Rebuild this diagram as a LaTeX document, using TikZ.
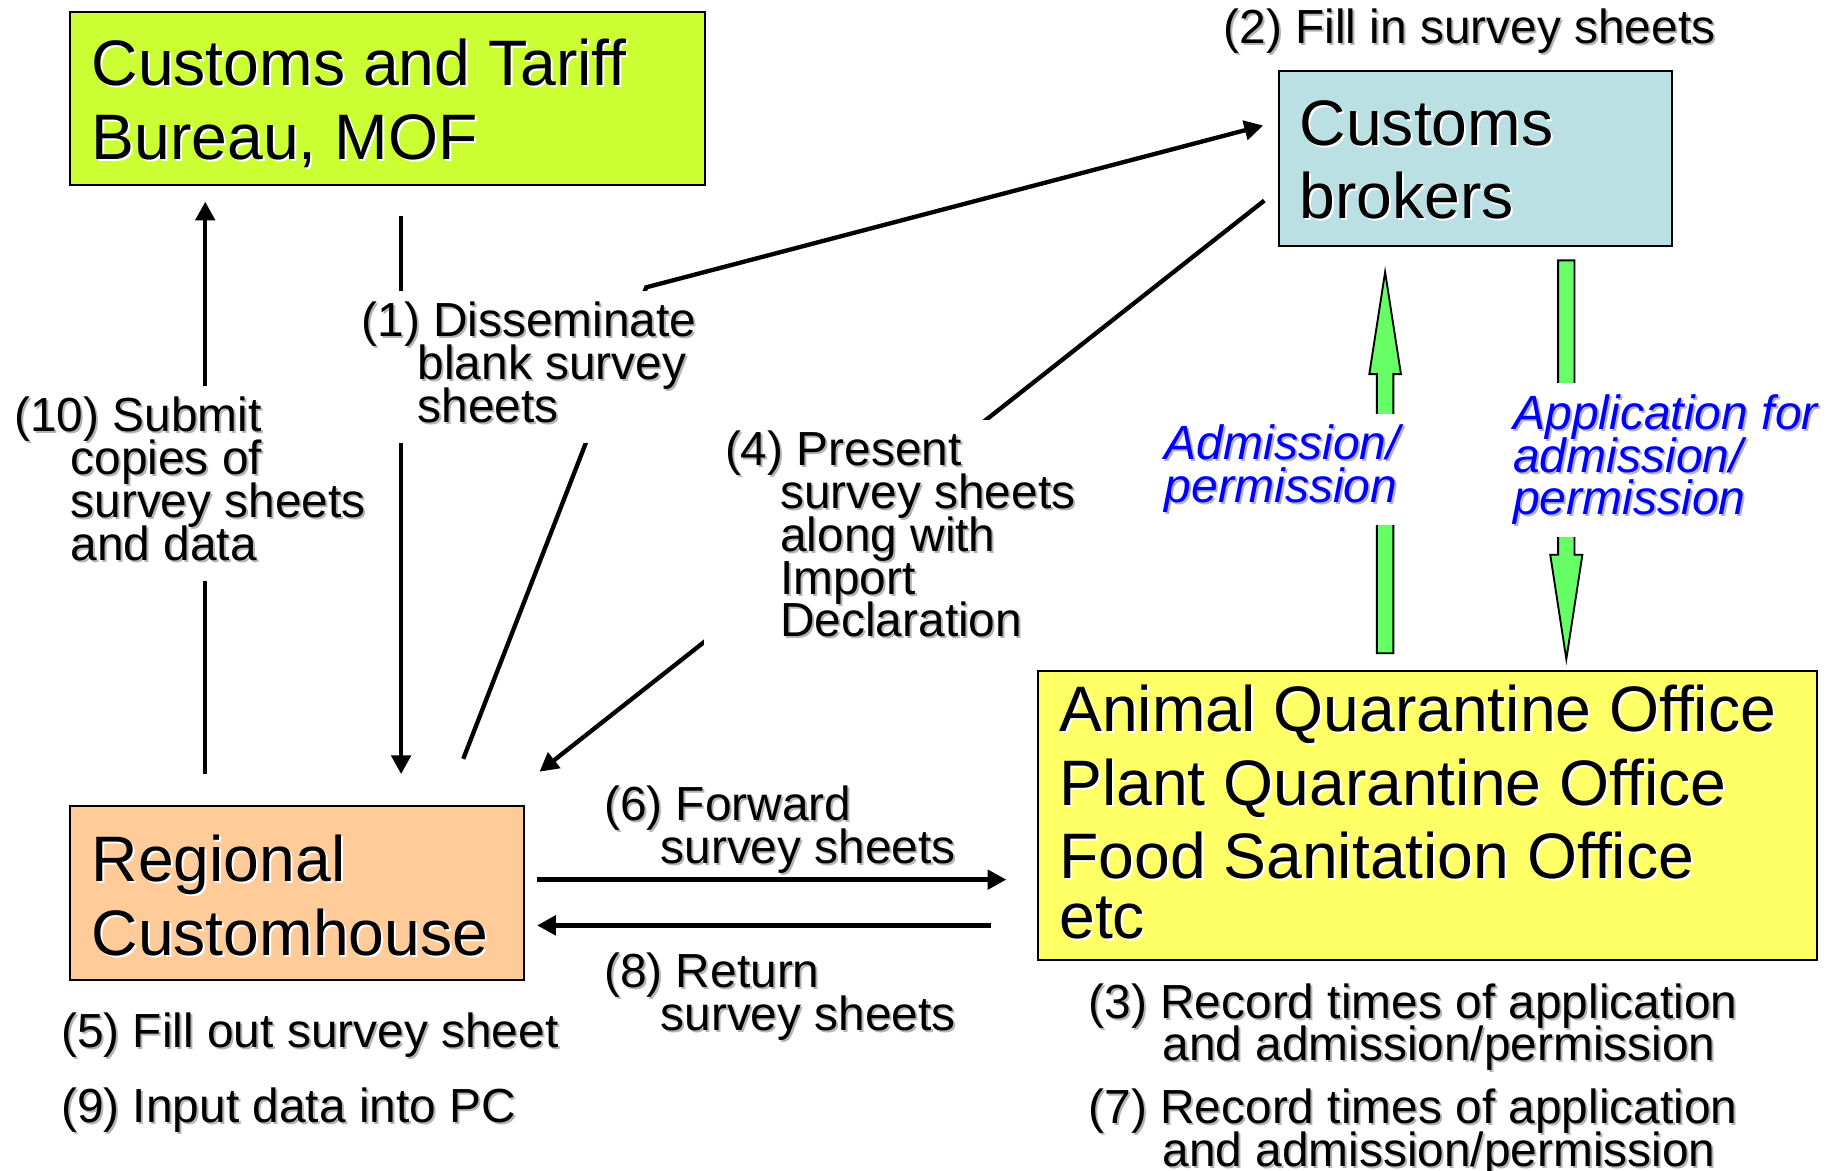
\documentclass[tikz,border=0pt]{standalone}
\usepackage{fontspec}
\setmainfont{Liberation Sans}
\usetikzlibrary{arrows.meta,calc}

\definecolor{ctbfill}{HTML}{CCFF33}
\definecolor{brokerfill}{HTML}{BBE0E3}
\definecolor{rcfill}{HTML}{FFCC99}
\definecolor{qofill}{HTML}{FFFF66}
\definecolor{greenfill}{HTML}{66FF66}
\definecolor{textshadow}{HTML}{B4B4B4}
\definecolor{labelblue}{HTML}{0000FF}

% text with a drop shadow; the shadow colour is \shcol
\newcommand{\shcol}{textshadow}
\newcommand{\shtext}[1]{\leavevmode\rlap{\kern1.7pt\raisebox{-1.7pt}{\textcolor{\shcol}{#1}}}#1}
% one line of a multi-line label, with optional left indent
\newcommand{\tline}[2][0pt]{\hbox{\hspace*{#1}\vrule width 0pt height 0.74em depth 0.22em\shtext{#2}}}

\newcommand{\boxfont}{\fontsize{54.8pt}{62.7pt}\selectfont\lineskiplimit=-200pt\renewcommand{\shcol}{white}}
\newcommand{\labfont}{\fontsize{40.8pt}{36.5pt}\selectfont\lineskiplimit=-200pt}
\newcommand{\bluefont}{\fontsize{41pt}{36.5pt}\selectfont\itshape\lineskiplimit=-200pt}

\begin{document}
\begin{tikzpicture}[x=1pt,y=-1pt,
  orgbox/.style={draw=black, line width=1.7pt, rectangle, inner sep=0pt, anchor=north west},
  boxtext/.style={font=\boxfont, inner sep=0pt, anchor=base west, align=left},
  steplabel/.style={font=\labfont, fill=white, inner sep=9pt, anchor=base west},
  bluelabel/.style={font=\bluefont, text=labelblue, fill=white, inner sep=9pt, anchor=base west},
  conn/.style={line width=3.7pt, -{Triangle[length=16pt,width=16.5pt]}},
  blockarrow/.style={draw=black, line width=1.6pt, fill=greenfill, line join=miter}
]
\useasboundingbox (0,0) rectangle (1568,998);

% ---------- boxes ----------
\node[orgbox, fill=ctbfill, minimum width=541pt, minimum height=148pt] (ctb) at (59,9) {};
\node[orgbox, fill=brokerfill, minimum width=335pt, minimum height=149pt] (brk) at (1090,60) {};
\node[orgbox, fill=rcfill, minimum width=387pt, minimum height=149pt] (rc) at (59,686) {};
\node[orgbox, fill=qofill, minimum width=664pt, minimum height=247pt] (qo) at (884,571) {};

\node[boxtext] (ctbtext) at (78,73) {\vtop{\tline{Customs and Tariff}\tline{Bureau, MOF}}};
\node[boxtext] (brktext) at (1108,124) {\vtop{\tline{Customs}\tline{brokers}}};
\node[boxtext] (rctext) at (78,752) {\vtop{\tline{Regional}\tline{Customhouse}}};
\node[boxtext] (qotext) at (903,624) {\vtop{\tline{Animal Quarantine Office}\tline{Plant Quarantine Office}\tline{Food Sanitation Office}\kern-11.5pt\tline{etc}}};

% ---------- connector end points ----------
\coordinate (d1top) at (342,184);
\coordinate (d1end) at (342,660);
\coordinate (u10foot) at (175,660);
\coordinate (u10tip) at (175,172);
\coordinate (b1foot) at (395,647);
\coordinate (b1bend) at (551,245);
\coordinate (b1tip) at (1077,107);
\coordinate (p4top) at (1078,171);
\coordinate (p4tip) at (460,658);
\coordinate (f6foot) at (458,750);
\coordinate (f6tip) at (858,750);
\coordinate (r8foot) at (845,789);
\coordinate (r8tip) at (458,789);
\coordinate (admfoot) at (1181,557);
\coordinate (admtip) at (1181,232);
\coordinate (appfoot) at (1335.5,222);
\coordinate (apptip) at (1335.5,562);

% ---------- black connectors ----------
\draw[conn] (d1top) -- (d1end);
\draw[conn] (u10foot) -- (u10tip);
\draw[conn, line join=miter] (b1foot) -- (b1bend) -- (b1tip);
\draw[conn] (p4top) -- (p4tip);
\draw[conn] (f6foot) -- (f6tip);
\draw[conn] (r8foot) -- (r8tip);

% ---------- green block arrows ----------
\path[blockarrow] ($(admfoot)+(-7,0)$) -- ($(admtip)+(-7,87)$) -- ($(admtip)+(-13.5,87)$)
  -- (admtip) -- ($(admtip)+(13.5,87)$) -- ($(admtip)+(7,87)$) -- ($(admfoot)+(7,0)$) -- cycle;
\path[blockarrow] ($(appfoot)+(-7,0)$) -- ($(apptip)+(-7,-89)$) -- ($(apptip)+(-13.7,-89)$)
  -- (apptip) -- ($(apptip)+(13.7,-89)$) -- ($(apptip)+(7,-89)$) -- ($(appfoot)+(7,0)$) -- cycle;

% ---------- step labels ----------
\node[steplabel, fill=none] (lab2) at (1034,37) {\vtop{\tline{(2) Fill in survey sheets}}};
\node[steplabel] (lab1) at (299,287) {\vtop{\tline{(1) Disseminate}\tline[48pt]{blank survey}\tline[48pt]{sheets}}};
\node[steplabel] (lab10) at (3,368) {\vtop{\tline{(10) Submit}\tline[48pt]{copies of}\tline[48pt]{survey sheets}\tline[48pt]{and data}}};
\node[steplabel, inner xsep=18pt] (lab4) at (600,397) {\vtop{\tline{(4) Present}\tline[47pt]{survey sheets}\tline[47pt]{along with}\tline[47pt]{Import}\tline[47pt]{Declaration}}};
\node[bluelabel] (adm) at (984,392) {\vtop{\tline{Admission/}\tline{permission}}};
\node[bluelabel] (app) at (1281,366) {\vtop{\tline{Application for}\tline{admission/}\tline{permission}}};
\node[steplabel, fill=none] (lab6) at (506,700) {\vtop{\tline{(6) Forward}\tline[48pt]{survey sheets}}};
\node[steplabel, fill=none] (lab8) at (506,842) {\vtop{\tline{(8) Return}\tline[48pt]{survey sheets}}};
\node[steplabel, fill=none] (lab5) at (43,893) {\vtop{\tline{(5) Fill out survey sheet}}};
\node[steplabel, fill=none] (lab9) at (43,957) {\vtop{\tline{(9) Input data into PC}}};
\node[steplabel, fill=none] (lab3) at (919,868) {\vtop{\tline{(3) Record times of application}\tline[63pt]{and admission/permission}}};
\node[steplabel, fill=none] (lab7) at (919,958) {\vtop{\tline{(7) Record times of application}\tline[63pt]{and admission/permission}}};
\end{tikzpicture}
\end{document}
